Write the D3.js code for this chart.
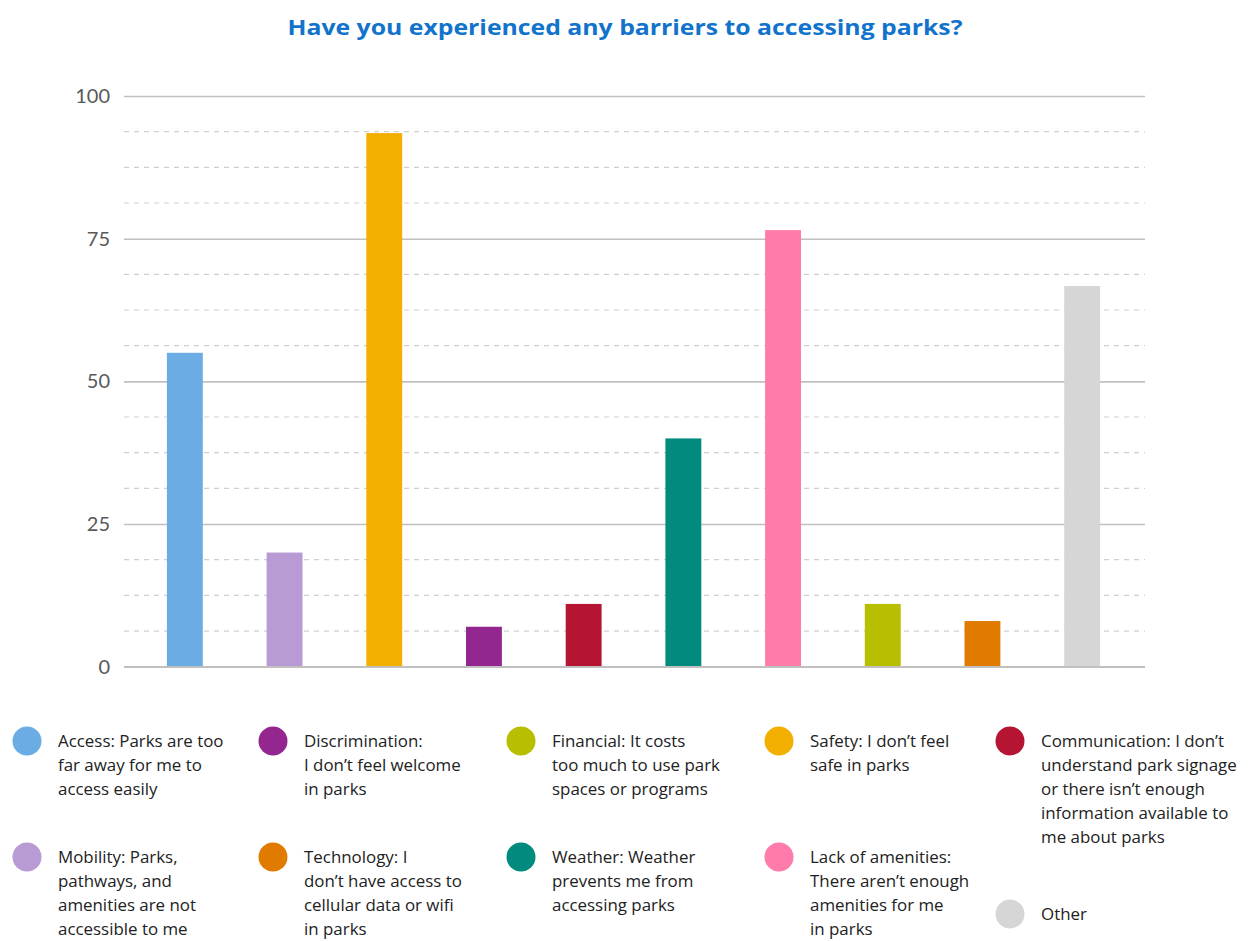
<!DOCTYPE html>
<html>
<head>
<meta charset="utf-8">
<script src="https://cdn.jsdelivr.net/npm/d3@7"></script>
<style>
  html, body { margin: 0; padding: 0; background: #fff; }
  svg { display: block; }
</style>
</head>
<body>
<svg id="chart" width="1250" height="941"></svg>
<script>
// Survey responses: barriers to accessing parks
const categories = ["Access", "Mobility", "Safety", "Discrimination", "Communication",
                    "Weather", "Lack of amenities", "Financial", "Technology", "Other"];
const values = [55, 20, 93.5, 7, 11, 40, 76.5, 11, 8, 66.7];
const colors = ["#6aace3", "#b89ad5", "#f2af00", "#93268f", "#b51433",
                "#008b7e", "#ff7bac", "#b8be00", "#e07b00", "#d6d6d6"];
const yTicks = [0, 25, 50, 75, 100];

// Legend entries, arranged in columns (top row, bottom row)
const legendColumns = [
  ["Access", "Mobility"],
  ["Discrimination", "Technology"],
  ["Financial", "Weather"],
  ["Safety", "Lack of amenities"],
  ["Communication", "Other"]
];
const legendText = {
  "Access": ["Access: Parks are too", "far away for me to", "access easily"],
  "Mobility": ["Mobility: Parks,", "pathways, and", "amenities are not", "accessible to me"],
  "Discrimination": ["Discrimination:", "I don\u2019t feel welcome", "in parks"],
  "Technology": ["Technology: I", "don\u2019t have access to", "cellular data or wifi", "in parks"],
  "Financial": ["Financial: It costs", "too much to use park", "spaces or programs"],
  "Weather": ["Weather: Weather", "prevents me from", "accessing parks"],
  "Safety": ["Safety: I don\u2019t feel", "safe in parks"],
  "Lack of amenities": ["Lack of amenities:", "There aren\u2019t enough", "amenities for me", "in parks"],
  "Communication": ["Communication: I don\u2019t", "understand park signage", "or there isn\u2019t enough", "information available to", "me about parks"],
  "Other": ["Other"]
};

const svg = d3.select("#chart");
const font = "'Open Sans', Lato, sans-serif";

const plot = { left: 124, right: 1145, top: 96, bottom: 666.7 };

const x = d3.scaleBand()
  .domain(categories)
  .range([135, 1132])
  .paddingInner(0.64)
  .paddingOuter(0.32);

const y = d3.scaleLinear().domain([0, 100]).range([plot.bottom, plot.top]);

// Title
svg.append("text")
  .attr("x", 625).attr("y", 35)
  .attr("text-anchor", "middle")
  .attr("font-family", font)
  .attr("font-weight", 700)
  .attr("font-size", 22)
  .attr("textLength", 675)
  .attr("lengthAdjust", "spacingAndGlyphs")
  .attr("fill", "#1273cc")
  .text("Have you experienced any barriers to accessing parks?");

// Minor dashed gridlines
const minor = d3.range(0, 100.01, 6.25).filter(v => v % 25 !== 0);
svg.append("g").selectAll("line")
  .data(minor)
  .join("line")
  .attr("x1", plot.left).attr("x2", plot.right)
  .attr("y1", d => y(d)).attr("y2", d => y(d))
  .attr("stroke", "#cfcfcf")
  .attr("stroke-width", 1.2)
  .attr("stroke-dasharray", "5,5");

// Major gridlines via the axis
const yAxis = d3.axisLeft(y)
  .tickValues(yTicks)
  .tickSize(-(plot.right - plot.left))
  .tickPadding(14)
  .tickFormat(d3.format("d"));

const axisG = svg.append("g")
  .attr("transform", `translate(${plot.left},0)`)
  .call(yAxis);
axisG.select(".domain").remove();
axisG.selectAll(".tick line")
  .attr("stroke", "#c0c0c0")
  .attr("stroke-width", 1.6);
axisG.selectAll(".tick text")
  .attr("font-family", "Lato, 'Open Sans', sans-serif")
  .attr("font-size", 20)
  .attr("fill", "#595959");

// Bars
svg.append("g").selectAll("rect")
  .data(categories)
  .join("rect")
  .attr("x", d => x(d))
  .attr("width", x.bandwidth())
  .attr("y", (d, i) => y(values[i]))
  .attr("height", (d, i) => y(0) - y(values[i]))
  .attr("fill", (d, i) => colors[i]);

// Baseline drawn over bars
svg.append("line")
  .attr("x1", plot.left).attr("x2", plot.right)
  .attr("y1", y(0)).attr("y2", y(0))
  .attr("stroke", "#c0c0c0").attr("stroke-width", 1.6);

// Legend
const colX = [27, 273, 521, 779, 1010];
const rowY = [741, 857];
const colorOf = name => colors[categories.indexOf(name)];

const legend = svg.append("g");
legendColumns.forEach((col, ci) => {
  col.forEach((name, ri) => {
    let cy = rowY[ri];
    if (name === "Other") cy = 914;
    const g = legend.append("g");
    g.append("circle")
      .attr("cx", colX[ci]).attr("cy", cy).attr("r", 14.5)
      .attr("fill", colorOf(name));
    const t = g.append("text")
      .attr("x", colX[ci] + 31)
      .attr("y", cy + 6)
      .attr("font-family", font)
      .attr("font-size", 16.9)
      .attr("fill", "#222");
    legendText[name].forEach((line, li) => {
      t.append("tspan")
        .attr("x", colX[ci] + 31)
        .attr("dy", li === 0 ? 0 : 24)
        .text(line);
    });
  });
});
</script>
</body>
</html>
